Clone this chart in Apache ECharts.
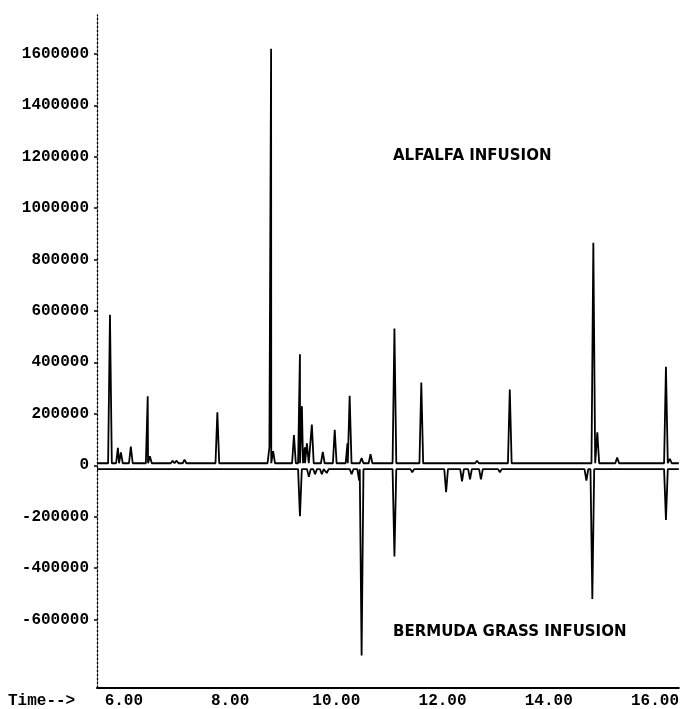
<!DOCTYPE html>
<html>
<head>
<meta charset="utf-8">
<script src="https://cdn.jsdelivr.net/npm/echarts@6/dist/echarts.min.js"></script>
<style>
  html, body { margin: 0; padding: 0; background: #fff; }
  #chart { width: 682px; height: 709px; }
</style>
</head>
<body>
<div id="chart"></div>
<script>
// Alfalfa infusion: retention time (min) and apex abundance of each peak
const alfalfaTimes = [
  5.738, 5.888, 5.944, 6.131, 6.449, 6.49, 6.918, 6.993, 7.142, 7.33,
  7.760, 8.27, 8.74, 8.772, 8.81, 9.202, 9.315, 9.352, 9.408, 9.446,
  9.539, 9.745, 9.970, 10.21, 10.251, 10.476, 10.644, 11.094, 11.60, 12.648,
  12.98, 13.266, 13.715, 14.315, 14.839, 14.914, 15.288, 16.206, 16.28
];
const alfalfaHeights = [
  585000, 68000, 50000, 73000, 268000, 35000, 18000, 18000, 22000, 12000,
  206000, 12000, 70000, 1620000, 55000, 118000, 432000, 230000, 70000, 85000,
  158000, 52000, 138000, 85000, 270000, 28000, 43000, 532000, 322000, 18000,
  10000, 295000, 12000, 12000, 865000, 128000, 30000, 383000, 25000
];
const alfalfaBaseline = 8000;

// Bermuda grass infusion (plotted inverted): retention time (min) and apex abundance
const bermudaTimes = [
  5.925, 7.76, 9.315, 9.483, 9.60, 9.727, 9.82, 9.95, 10.288, 10.43,
  10.476, 11.094, 11.43, 12.067, 12.367, 12.517, 12.723, 13.079, 14.708, 14.820,
  16.206
];
const bermudaHeights = [
  -20000, -18000, -198000, -45000, -35000, -35000, -30000, -22000, -35000, -60000,
  -740000, -355000, -27000, -105000, -62000, -55000, -55000, -27000, -60000, -520000,
  -213000
];
const bermudaBaseline = -15000;

// Axis extents and labelled ticks
const timeRange = [5.494, 16.449];
const abundanceRange = [-866000, 1751000];
const timeTicks = [6, 8, 10, 12, 14, 16];
const abundanceTicks = [-600000, -400000, -200000, 0, 200000, 400000, 600000,
  800000, 1000000, 1200000, 1400000, 1600000];

// Half width of a peak at its base, in minutes
const peakHalfWidth = 0.035;

// Turn a peak list into a polyline: baseline -> apex -> baseline for each peak
function buildTrace(times, heights, base) {
  const pts = [[timeRange[0], base], [timeRange[1], base]];
  times.forEach(function (t, i) {
    pts.push([t - peakHalfWidth, base], [t, heights[i]], [t + peakHalfWidth, base]);
  });
  pts.sort(function (a, b) { return a[0] - b[0]; });
  return pts;
}

const monoFont = '"Liberation Mono", "DejaVu Sans Mono", monospace';
const chart = echarts.init(document.getElementById('chart'), null, { renderer: 'canvas' });

chart.setOption({
  animation: false,
  backgroundColor: '#ffffff',
  grid: { left: 97, right: 0, top: 15, bottom: 20, containLabel: false },
  xAxis: {
    type: 'value',
    min: timeRange[0],
    max: timeRange[1],
    axisLine: { show: true, onZero: false, lineStyle: { color: '#000', width: 2 } },
    axisTick: { show: false },
    splitLine: { show: false },
    axisLabel: {
      customValues: timeTicks,
      margin: 5,
      color: '#000',
      fontFamily: monoFont,
      fontWeight: 'bold',
      fontSize: 16,
      formatter: function (v) { return Number(v).toFixed(2); }
    }
  },
  yAxis: {
    type: 'value',
    min: abundanceRange[0],
    max: abundanceRange[1],
    axisLine: { show: true, onZero: false, lineStyle: { color: '#000', width: 1.3, type: [2, 2] } },
    axisTick: { show: true, customValues: abundanceTicks, length: 3, lineStyle: { color: '#000', width: 1.5 } },
    splitLine: { show: false },
    axisLabel: {
      customValues: abundanceTicks,
      margin: 8,
      color: '#000',
      fontFamily: monoFont,
      fontWeight: 'bold',
      fontSize: 16,
      formatter: function (v) { return String(Math.round(v)); }
    }
  },
  graphic: [
    {
      type: 'text', left: 8, top: 693,
      style: { text: 'Time-->', fill: '#000', font: 'bold 16px ' + monoFont }
    },
    {
      type: 'text', left: 393, top: 149,
      style: { text: 'ALFALFA INFUSION', fill: '#000', font: 'bold 15px "DejaVu Sans", sans-serif' }
    },
    {
      type: 'text', left: 393, top: 625,
      style: { text: 'BERMUDA GRASS INFUSION', fill: '#000', font: 'bold 15px "DejaVu Sans", sans-serif' }
    }
  ],
  series: [
    {
      name: 'ALFALFA INFUSION',
      type: 'line',
      data: buildTrace(alfalfaTimes, alfalfaHeights, alfalfaBaseline),
      showSymbol: false,
      lineStyle: { color: '#000', width: 1.8 },
      z: 3
    },
    {
      name: 'BERMUDA GRASS INFUSION',
      type: 'line',
      data: buildTrace(bermudaTimes, bermudaHeights, bermudaBaseline),
      showSymbol: false,
      lineStyle: { color: '#000', width: 1.8 },
      z: 3
    }
  ]
});
</script>
</body>
</html>
